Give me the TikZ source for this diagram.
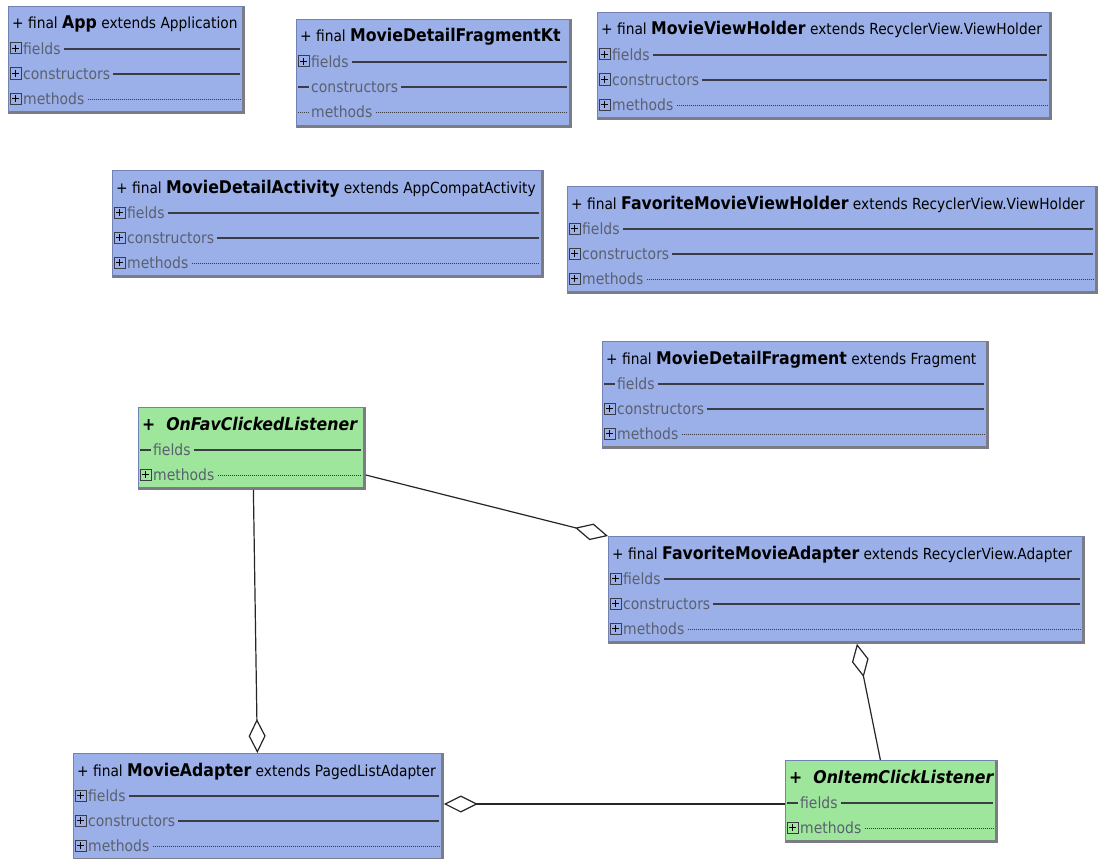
\documentclass[tikz,border=0pt]{standalone}
\usepackage{fontspec}
\setmainfont{DejaVu Sans}[FakeStretch=0.9]
\usetikzlibrary{arrows.meta,calc}
\definecolor{boxblue}{HTML}{9BB0E8}
\definecolor{boxgreen}{HTML}{9EE69B}
\definecolor{boxedge}{HTML}{7282B4}
\definecolor{rowgray}{HTML}{5A6070}
\definecolor{edgegray}{HTML}{7C7C84}
\definecolor{rowline}{HTML}{3C3C44}
\tikzset{
  umlbox/.style={draw=boxedge, line width=0.8pt, inner sep=0pt, anchor=north west},
  shadeedge/.style={draw=edgegray, line width=2.5pt},
  titletext/.style={inner sep=0pt, font=\fontsize{15.3}{18}\selectfont, text=black},
  rowtext/.style={inner sep=0pt, font=\fontsize{15.5}{18}\selectfont, text=rowgray},
  iconbox/.style={draw=rowline, line width=1pt},
  iconplus/.style={draw=black, line width=1.3pt},
  solidline/.style={draw=rowline, line width=1.4pt},
  dottedline/.style={draw=rowline, line width=0.8pt, dash pattern=on 0.8pt off 1.2pt},
  agg/.style={draw=black!85, line width=1.2pt, -{Diamond[open, length=34pt, width=17pt, line width=1.2pt]}}
}
\newcommand\cname[1]{{\fontsize{17.5}{20}\selectfont\bfseries #1}}
\newcommand\iname[1]{{\fontsize{17.5}{20}\selectfont\bfseries\itshape #1}}
\newcommand\uclass[7]{%
  \node[umlbox, fill=#6, minimum width=#4pt, minimum height=#5pt] (#1) at (#2,#3) {};
  \draw[shadeedge] ($(#1.north east)+(-1.25,1)$) -- ($(#1.south east)+(-1.25,-1.25)$) -- ($(#1.south west)+(1,-1.25)$);
  \node[titletext, anchor=base west] at (#2+4,#3+23) {#7};
}
\newcommand\urow[6]{%
  \if p#4
    \draw[iconbox] (#1+2,#3-6) rectangle (#1+13,#3+5);
    \draw[iconplus] (#1+7.5,#3-4) -- (#1+7.5,#3+3) (#1+4,#3-0.5) -- (#1+11,#3-0.5);
  \fi
  \if d#4 \draw[solidline] (#1+2,#3) -- (#1+13,#3); \fi
  \if o#4 \draw[dottedline] (#1+2,#3) -- (#1+13,#3); \fi
  \node[rowtext, anchor=west] (rl) at (#1+15,#3) {#5};
  \draw[#6] ([xshift=3pt]rl.east) -- (#2-4,#3);
}
\begin{document}
\begin{tikzpicture}[x=1pt,y=-1pt]
\useasboundingbox[fill=white] (0,0) rectangle (1100,859);

% App
\uclass{app}{8}{6}{236}{107}{boxblue}{+ final \cname{App} extends Application}
\urow{8}{244}{6+43}{p}{fields}{solidline}
\urow{8}{244}{6+68}{p}{constructors}{solidline}
\urow{8}{244}{6+93}{p}{methods}{dottedline}

% MovieDetailFragmentKt
\uclass{mdfkt}{296}{19}{275}{108}{boxblue}{+ final \cname{MovieDetailFragmentKt}}
\urow{296}{571}{19+43}{p}{fields}{solidline}
\urow{296}{571}{19+68}{d}{constructors}{solidline}
\urow{296}{571}{19+93}{o}{methods}{dottedline}

% MovieViewHolder
\uclass{mvh}{597}{12}{454}{107}{boxblue}{+ final \cname{MovieViewHolder} extends RecyclerView.ViewHolder}
\urow{597}{1051}{12+43}{p}{fields}{solidline}
\urow{597}{1051}{12+68}{p}{constructors}{solidline}
\urow{597}{1051}{12+93}{p}{methods}{dottedline}

% MovieDetailActivity
\uclass{mda}{112}{170}{431}{107}{boxblue}{+ final \cname{MovieDetailActivity} extends AppCompatActivity}
\urow{112}{543}{170+43}{p}{fields}{solidline}
\urow{112}{543}{170+68}{p}{constructors}{solidline}
\urow{112}{543}{170+93}{p}{methods}{dottedline}

% FavoriteMovieViewHolder
\uclass{fmvh}{567}{186}{530}{107}{boxblue}{+ final \cname{FavoriteMovieViewHolder} extends RecyclerView.ViewHolder}
\urow{567}{1097}{186+43}{p}{fields}{solidline}
\urow{567}{1097}{186+68}{p}{constructors}{solidline}
\urow{567}{1097}{186+93}{p}{methods}{dottedline}

% MovieDetailFragment
\uclass{mdf}{602}{341}{386}{107}{boxblue}{+ final \cname{MovieDetailFragment} extends Fragment}
\urow{602}{988}{341+43}{d}{fields}{solidline}
\urow{602}{988}{341+68}{p}{constructors}{solidline}
\urow{602}{988}{341+93}{p}{methods}{dottedline}

% OnFavClickedListener
\uclass{ofl}{138}{407}{227}{82}{boxgreen}{\iname{+~~OnFavClickedListener}}
\urow{138}{365}{407+43}{d}{fields}{solidline}
\urow{138}{365}{407+68}{p}{methods}{dottedline}

% FavoriteMovieAdapter
\uclass{fma}{608}{536}{476}{107}{boxblue}{+ final \cname{FavoriteMovieAdapter} extends RecyclerView.Adapter}
\urow{608}{1084}{536+43}{p}{fields}{solidline}
\urow{608}{1084}{536+68}{p}{constructors}{solidline}
\urow{608}{1084}{536+93}{p}{methods}{dottedline}

% MovieAdapter
\uclass{ma}{73}{753}{370}{107}{boxblue}{+ final \cname{MovieAdapter} extends PagedListAdapter}
\urow{73}{443}{753+43}{p}{fields}{solidline}
\urow{73}{443}{753+68}{p}{constructors}{solidline}
\urow{73}{443}{753+93}{p}{methods}{dottedline}

% OnItemClickListener
\uclass{oic}{785}{760}{212}{82}{boxgreen}{\iname{+~~OnItemClickListener}}
\urow{785}{997}{760+43}{d}{fields}{solidline}
\urow{785}{997}{760+68}{p}{methods}{dottedline}

% connectors
\draw[agg] ($(ofl.north east)+(0,68)$) -- (fma.north west);
\draw[agg] ($(ofl.south)+(1.5,0)$) -- ($(ma.north)+(-1,0)$);
\draw[agg] ($(oic.north)+(-11,0)$) -- ($(fma.south)+(10.5,0)$);
\draw[agg] ($(oic.north west)+(0,44)$) -- ($(ma.north east)+(0,51)$);
\end{tikzpicture}
\end{document}
